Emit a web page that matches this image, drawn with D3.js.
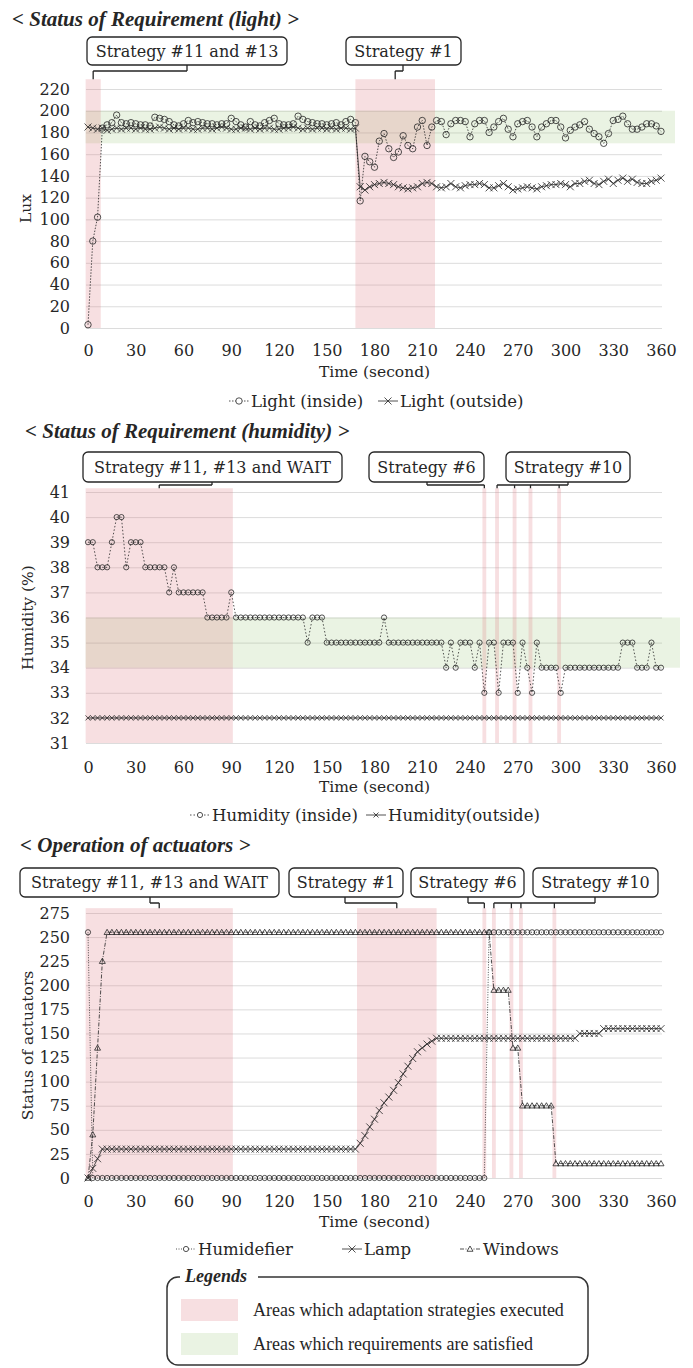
<!DOCTYPE html>
<html>
<head>
<meta charset="utf-8">
<script src="https://cdn.jsdelivr.net/npm/d3@7"></script>
<style>
  body { margin: 0; background: #fff; }
</style>
</head>
<body>
<svg id="chart" width="693" height="1368"></svg>
<script>
(() => {

    // ---- data ----
    const timeTicks = [0, 30, 60, 90, 120, 150, 180, 210, 240, 270, 300, 330, 360];
    const sampleTimes = d3.range(0, 361, 3);    // one sample every 3 seconds

    // light requirement
    const luxTicks = [0, 20, 40, 60, 80, 100, 120, 140, 160, 180, 200, 220];
    const lightInside = [
        3, 80, 102, 184, 187, 189, 196, 189, 188, 189,
        188, 187, 187, 186, 194, 193, 192, 190, 187, 186,
        188, 191, 189, 190, 189, 188, 188, 187, 188, 188,
        193, 190, 187, 185, 190, 187, 186, 189, 191, 193,
        188, 187, 187, 188, 195, 192, 190, 189, 188, 188,
        187, 188, 189, 187, 190, 192, 189,
        117, 158, 153, 148, 172, 179, 165, 157, 162, 177, 168, 165, 185, 191, 168, 185,
        191, 190, 178, 188, 191, 191, 190, 176, 188, 191,
        191, 180, 185, 190, 193, 183, 176, 188, 190, 191,
        185, 176, 185, 188, 191, 191, 185, 175, 182, 185,
        187, 190, 183, 179, 176, 170, 179, 191, 192, 195,
        188, 183, 183, 185, 188, 188, 186, 181];
    const lightOutside = [
        185, 184, 183, 184, 182, 183, 184, 183, 184, 184,
        183, 184, 183, 183, 184, 185, 184, 183, 184, 183,
        184, 184, 183, 183, 184, 184, 183, 184, 185, 184,
        183, 183, 184, 184, 183, 184, 183, 184, 184, 183,
        183, 184, 184, 185, 184, 183, 184, 183, 184, 184,
        183, 184, 183, 184, 184, 183, 184,
        130, 127, 130, 132, 133, 134, 133, 132, 130, 129,
        128, 129, 130, 133, 134, 133, 130, 129, 130, 133,
        130, 129, 131, 132, 132, 133, 132, 129, 129, 131,
        133, 130, 127, 128, 129, 130, 129, 128, 130, 131,
        132, 132, 133, 132, 130, 133, 133, 135, 136, 133,
        132, 135, 137, 133, 136, 138, 135, 137, 134, 133,
        133, 135, 136, 138];
    const lightGoal = [170, 200];
    const lightBands = [[-1.5, 8], [168, 218]];
    const lightStrategies = ['Strategy #11 and #13', 'Strategy #1'];
    const lightTargets = [[3.25], [193]];

    // humidity requirement
    const humidityTicks = [31, 32, 33, 34, 35, 36, 37, 38, 39, 40, 41];
    const humidityInside = [
        39, 39, 38, 38, 38, 39, 40, 40, 38, 39,
        39, 39, 38, 38, 38, 38, 38, 37, 38, 37,
        37, 37, 37, 37, 37, 36, 36, 36, 36, 36,
        37, 36, 36, 36, 36, 36, 36, 36, 36, 36,
        36, 36, 36, 36, 36, 36, 35, 36, 36, 36,
        35, 35, 35, 35, 35, 35, 35, 35, 35, 35,
        35, 35, 36, 35, 35, 35, 35, 35, 35, 35,
        35, 35, 35, 35, 35, 34, 35, 34, 35, 35,
        35, 34, 35, 33, 35, 35, 33, 35, 35, 35,
        33, 35, 34, 33, 35, 34, 34, 34, 34, 33,
        34, 34, 34, 34, 34, 34, 34, 34, 34, 34,
        34, 34, 35, 35, 35, 34, 34, 34, 35, 34,
        34];
    const humidityOutside = [
        32, 32, 32, 32, 32, 32, 32, 32, 32, 32,
        32, 32, 32, 32, 32, 32, 32, 32, 32, 32,
        32, 32, 32, 32, 32, 32, 32, 32, 32, 32,
        32, 32, 32, 32, 32, 32, 32, 32, 32, 32,
        32, 32, 32, 32, 32, 32, 32, 32, 32, 32,
        32, 32, 32, 32, 32, 32, 32, 32, 32, 32,
        32, 32, 32, 32, 32, 32, 32, 32, 32, 32,
        32, 32, 32, 32, 32, 32, 32, 32, 32, 32,
        32, 32, 32, 32, 32, 32, 32, 32, 32, 32,
        32, 32, 32, 32, 32, 32, 32, 32, 32, 32,
        32, 32, 32, 32, 32, 32, 32, 32, 32, 32,
        32, 32, 32, 32, 32, 32, 32, 32, 32, 32,
        32];
    const humidityGoal = [34, 36];
    const humidityBands = [[-1.5, 91], [247.8, 250.2], [255.8, 258.2], [266.8, 269.2], [276.8, 279.2], [294.8, 297.2]];
    const humidityStrategies = ['Strategy #11, #13 and WAIT', 'Strategy #6', 'Strategy #10'];
    const humidityTargets = [[44.75], [249], [257, 268, 278, 296]];

    // actuators
    const actuatorTicks = [0, 25, 50, 75, 100, 125, 150, 175, 200, 225, 250, 275];
    const humidifier = [
        255, 0, 0, 0, 0, 0, 0, 0, 0, 0,
        0, 0, 0, 0, 0, 0, 0, 0, 0, 0,
        0, 0, 0, 0, 0, 0, 0, 0, 0, 0,
        0, 0, 0, 0, 0, 0, 0, 0, 0, 0,
        0, 0, 0, 0, 0, 0, 0, 0, 0, 0,
        0, 0, 0, 0, 0, 0, 0, 0, 0, 0,
        0, 0, 0, 0, 0, 0, 0, 0, 0, 0,
        0, 0, 0, 0, 0, 0, 0, 0, 0, 0,
        0, 0, 0, 0, 255, 255, 255, 255, 255, 255,
        255, 255, 255, 255, 255, 255, 255, 255, 255, 255,
        255, 255, 255, 255, 255, 255, 255, 255, 255, 255,
        255, 255, 255, 255, 255, 255, 255, 255, 255, 255,
        255];
    const lamp = [
        0, 10, 20, 30, 30, 30, 30, 30, 30, 30,
        30, 30, 30, 30, 30, 30, 30, 30, 30, 30,
        30, 30, 30, 30, 30, 30, 30, 30, 30, 30,
        30, 30, 30, 30, 30, 30, 30, 30, 30, 30,
        30, 30, 30, 30, 30, 30, 30, 30, 30, 30,
        30, 30, 30, 30, 30, 30, 30, 36, 44, 53,
        61, 70, 78, 84, 91, 99, 108, 116, 124, 131,
        135, 139, 142, 145, 145, 145, 145, 145, 145, 145,
        145, 145, 145, 145, 145, 145, 145, 145, 145, 145,
        145, 145, 145, 145, 145, 145, 145, 145, 145, 145,
        145, 145, 145, 150, 150, 150, 150, 150, 155, 155,
        155, 155, 155, 155, 155, 155, 155, 155, 155, 155,
        155];
    const windows = [
        0, 45, 135, 225, 255, 255, 255, 255, 255, 255,
        255, 255, 255, 255, 255, 255, 255, 255, 255, 255,
        255, 255, 255, 255, 255, 255, 255, 255, 255, 255,
        255, 255, 255, 255, 255, 255, 255, 255, 255, 255,
        255, 255, 255, 255, 255, 255, 255, 255, 255, 255,
        255, 255, 255, 255, 255, 255, 255, 255, 255, 255,
        255, 255, 255, 255, 255, 255, 255, 255, 255, 255,
        255, 255, 255, 255, 255, 255, 255, 255, 255, 255,
        255, 255, 255, 255, 255, 195, 195, 195, 195, 135,
        135, 75, 75, 75, 75, 75, 75, 75, 15, 15,
        15, 15, 15, 15, 15, 15, 15, 15, 15, 15,
        15, 15, 15, 15, 15, 15, 15, 15, 15, 15,
        15];
    const actuatorBands = [[-1.5, 91], [169, 219], [247.8, 250.2], [253.8, 256.2], [264.8, 267.2], [270.8, 273.2], [291.8, 294.2]];
    const actuatorStrategies = ['Strategy #11, #13 and WAIT', 'Strategy #1', 'Strategy #6', 'Strategy #10'];
    const actuatorTargets = [[44.75], [194], [249], [255, 266, 272, 293]];

    const legendLabels = ['Areas which adaptation strategies executed', 'Areas which requirements are satisfied'];

    // ---- styles ----
    const ink = '#262626';
    const gridColor = '#dcdcdc';
    const pink = 'rgba(222, 120, 130, 0.24)';
    const green = 'rgba(140, 190, 100, 0.18)';
    const serif = '"DejaVu Serif", serif';
    const times = '"Liberation Serif", serif';

    const svg = d3.select('#chart');
    const x = d3.scaleLinear().domain([0, 360]).range([88, 661]);

    const markers = {
        circle: r => `M${-r},0a${r},${r} 0 1,0 ${2 * r},0a${r},${r} 0 1,0 ${-2 * r},0`,
        cross: s => `M${-s},${-s}L${s},${s}M${-s},${s}L${s},${-s}`,
        triangle: s => `M0,${-s}L${s},${s * 0.75}L${-s},${s * 0.75}Z`
    };

    const drawPanel = p => {
        const y = d3.scaleLinear().domain(p.domain).range(p.range);
        const g = svg.append('g');
        const left = x(0) - 2,
                right = x(360) + 1;

        g.append('text')
                .attr('x', p.titleX).attr('y', p.titleY)
                .attr('font-family', times).attr('font-size', 21)
                .attr('font-weight', 'bold').attr('font-style', 'italic')
                .attr('fill', ink)
                .text(p.title);

        // gridlines + y labels
        const yAxis = g.append('g')
                .attr('transform', `translate(${left},0)`)
                .call(d3.axisLeft(y).tickValues(p.ticks).tickSize(-(right - left)).tickPadding(16));
        yAxis.select('.domain').remove();
        yAxis.selectAll('line').attr('stroke', gridColor);
        yAxis.selectAll('text')
                .attr('font-family', serif).attr('font-size', 16).attr('fill', ink);

        const xAxis = g.append('g')
                .attr('transform', `translate(0,${p.range[0]})`)
                .call(d3.axisBottom(x).tickValues(timeTicks).tickSize(0));
        xAxis.select('.domain').remove();
        xAxis.selectAll('text')
                .attr('y', p.xLabelOffset).attr('dy', '0.35em')
                .attr('font-family', serif).attr('font-size', 16).attr('fill', ink);

        g.append('text')
                .attr('x', (x(0) + x(360)) / 2).attr('y', p.range[0] + 49)
                .attr('text-anchor', 'middle')
                .attr('font-family', serif).attr('font-size', 15.5).attr('fill', ink)
                .text('Time (second)');

        g.append('text')
                .attr('transform', `translate(${p.yTitleX},${(p.range[0] + p.range[1]) / 2}) rotate(-90)`)
                .attr('text-anchor', 'middle').attr('dy', '0.35em')
                .attr('font-family', serif).attr('font-size', 15.5).attr('fill', ink)
                .text(p.yTitle);

        // satisfied area
        if (p.goal) {
            g.append('rect')
                    .attr('x', x(p.bands[0][0]))
                    .attr('width', p.goalRight - x(p.bands[0][0]))
                    .attr('y', y(p.goal[1]))
                    .attr('height', y(p.goal[0]) - y(p.goal[1]))
                    .attr('fill', green);
        }

        // strategy execution areas
        g.append('g').selectAll('rect')
                .data(p.bands)
                .join('rect')
                .attr('x', d => x(d[0]))
                .attr('width', d => x(d[1]) - x(d[0]))
                .attr('y', y(p.bandTop))
                .attr('height', p.range[0] - y(p.bandTop))
                .attr('fill', pink);

        const line = d3.line()
                .x((d, i) => x(sampleTimes[i]))
                .y(d => y(d));

        p.series.forEach(s => {
            g.append('path')
                    .datum(s.values)
                    .attr('d', line)
                    .attr('fill', 'none')
                    .attr('stroke', ink)
                    .attr('stroke-width', 0.8)
                    .attr('stroke-dasharray', s.dash);
            g.append('g').selectAll('path')
                    .data(s.values)
                    .join('path')
                    .attr('transform', (d, i) => `translate(${x(sampleTimes[i])},${y(d)})`)
                    .attr('d', markers[s.marker](s.size))
                    .attr('fill', 'none')
                    .attr('stroke', ink)
                    .attr('stroke-width', 0.8);
        });

        // legend row
        p.legend.forEach((item, k) => {
            const s = p.series[k];
            g.append('line')
                    .attr('x1', item.sym).attr('x2', item.sym + 20)
                    .attr('y1', p.legendY).attr('y2', p.legendY)
                    .attr('stroke', ink).attr('stroke-width', 0.8)
                    .attr('stroke-dasharray', s.dash);
            g.append('path')
                    .attr('transform', `translate(${item.sym + 10},${p.legendY})`)
                    .attr('d', markers[s.marker](s.size))
                    .attr('fill', '#fff').attr('stroke', ink).attr('stroke-width', 0.8);
            g.append('text')
                    .attr('x', item.text).attr('y', p.legendY).attr('dy', '0.35em')
                    .attr('font-family', serif).attr('font-size', 16.5).attr('fill', ink)
                    .text(s.name);
        });

        // strategy call-outs
        p.strategies.forEach((label, k) => {
            const b = p.boxes[k];
            g.append('rect')
                    .attr('x', b.x).attr('y', p.boxY)
                    .attr('width', b.w).attr('height', p.boxH)
                    .attr('rx', 5)
                    .attr('fill', '#fff').attr('stroke', ink).attr('stroke-width', 1.3);
            g.append('text')
                    .attr('x', b.x + b.w / 2).attr('y', p.boxY + p.boxH / 2).attr('dy', '0.36em')
                    .attr('text-anchor', 'middle')
                    .attr('font-family', serif).attr('font-size', 16).attr('fill', ink)
                    .text(label);
            const tx = p.targets[k].map(x);
            const lo = Math.min(b.anchor, ...tx),
                    hi = Math.max(b.anchor, ...tx);
            let d = `M${b.anchor},${p.boxY + p.boxH}V${p.bracketY}M${lo},${p.bracketY}H${hi}`;
            tx.forEach(t => {
                d += `M${t},${p.bracketY}V${y(p.bandTop)}`;
            });
            g.append('path')
                    .attr('d', d)
                    .attr('fill', 'none').attr('stroke', ink).attr('stroke-width', 1.3);
        });
    };

    drawPanel({
        title: '< Status of Requirement (light) >', titleX: 12, titleY: 26,
        domain: [0, 220], range: [328, 89], ticks: luxTicks,
        xLabelOffset: 22, yTitle: 'Lux', yTitleX: 26,
        goal: lightGoal, goalRight: 675,
        bands: lightBands, bandTop: 229,
        series: [
            {name: 'Light (inside)', values: lightInside, marker: 'circle', size: 3.2, dash: '1.5,1.5'},
            {name: 'Light (outside)', values: lightOutside, marker: 'cross', size: 3.5, dash: null}
        ],
        legendY: 401,
        legend: [{sym: 229, text: 251}, {sym: 378, text: 400}],
        strategies: lightStrategies, targets: lightTargets,
        boxY: 37, boxH: 28, bracketY: 71,
        boxes: [{x: 87, w: 200, anchor: 187}, {x: 346, w: 115, anchor: 403}]
    });

    drawPanel({
        title: '< Status of Requirement (humidity) >', titleX: 25, titleY: 438,
        domain: [31, 41], range: [743, 492], ticks: humidityTicks,
        xLabelOffset: 24, yTitle: 'Humidity (%)', yTitleX: 28,
        goal: humidityGoal, goalRight: 680,
        bands: humidityBands, bandTop: 41.15,
        series: [
            {name: 'Humidity (inside)', values: humidityInside, marker: 'circle', size: 2.6, dash: '1.5,2'},
            {name: 'Humidity(outside)', values: humidityOutside, marker: 'cross', size: 2.5, dash: null}
        ],
        legendY: 815,
        legend: [{sym: 190, text: 212}, {sym: 366, text: 388}],
        strategies: humidityStrategies, targets: humidityTargets,
        boxY: 452, boxH: 30, bracketY: 485,
        boxes: [{x: 83, w: 259, anchor: 212}, {x: 369, w: 115, anchor: 427}, {x: 506, w: 124, anchor: 568}]
    });

    drawPanel({
        title: '< Operation of actuators >', titleX: 20, titleY: 852,
        domain: [0, 275], range: [1178, 913], ticks: actuatorTicks,
        xLabelOffset: 23, yTitle: 'Status of actuators', yTitleX: 28,
        goal: null,
        bands: actuatorBands, bandTop: 280,
        series: [
            {name: 'Humidefier', values: humidifier, marker: 'circle', size: 2.6, dash: '1,1.5'},
            {name: 'Lamp', values: lamp, marker: 'cross', size: 3.5, dash: null},
            {name: 'Windows', values: windows, marker: 'triangle', size: 3, dash: '4,1.5,1,1.5'}
        ],
        legendY: 1249,
        legend: [{sym: 176, text: 198}, {sym: 342, text: 364}, {sym: 460, text: 483}],
        strategies: actuatorStrategies, targets: actuatorTargets,
        boxY: 868, boxH: 29, bracketY: 903,
        boxes: [{x: 20, w: 259, anchor: 150}, {x: 289, w: 114, anchor: 345},
                {x: 411, w: 113, anchor: 468}, {x: 533, w: 125, anchor: 595}]
    });

    // ---- legends box ----
    const lg = svg.append('g');
    const bx0 = 167, bx1 = 588, by0 = 1277, by1 = 1365, r = 11;
    lg.append('path')
            .attr('d', `M258,${by0}H${bx1 - r}A${r},${r} 0 0 1 ${bx1},${by0 + r}V${by1 - r}` +
                    `A${r},${r} 0 0 1 ${bx1 - r},${by1}H${bx0 + r}A${r},${r} 0 0 1 ${bx0},${by1 - r}` +
                    `V${by0 + r}A${r},${r} 0 0 1 ${bx0 + r},${by0}H${bx0 + r + 2}`)
            .attr('fill', 'none').attr('stroke', '#333').attr('stroke-width', 1.5);
    lg.append('text')
            .attr('x', 185).attr('y', 1282)
            .attr('font-family', times).attr('font-size', 18)
            .attr('font-weight', 'bold').attr('font-style', 'italic')
            .attr('fill', ink)
            .text('Legends');
    const swatches = [pink, green];
    legendLabels.forEach((label, k) => {
        const cy = 1310 + k * 34;
        lg.append('rect')
                .attr('x', 181).attr('y', cy - 11)
                .attr('width', 57).attr('height', 22)
                .attr('fill', swatches[k]);
        lg.append('text')
                .attr('x', 253).attr('y', cy).attr('dy', '0.35em')
                .attr('font-family', times).attr('font-size', 18).attr('fill', ink)
                .text(label);
    });

})();
</script>
</body>
</html>
